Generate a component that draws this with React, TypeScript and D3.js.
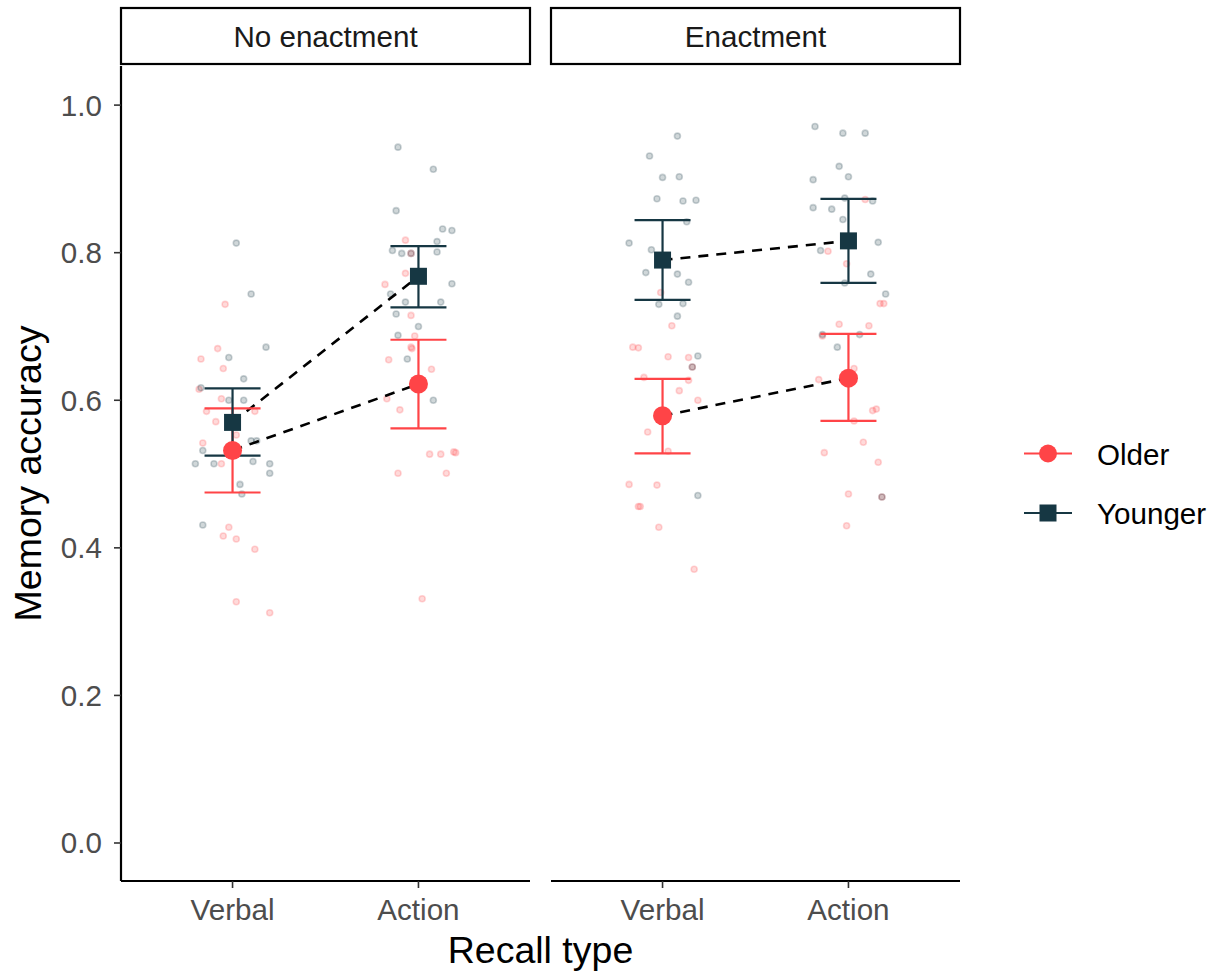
import React from "react";
import * as d3 from "d3";

// ---------- data ----------
const facets = ["No enactment", "Enactment"];
const recallTypes = ["Verbal", "Action"];
const groups = ["Older", "Younger"];
const groupColors = ["#FF4447", "#163743"];
const yTicks = [0, 0.2, 0.4, 0.6, 0.8, 1.0];

// summary: [facet][recall] -> mean, low, high
const olderMean = [[0.532, 0.622], [0.579, 0.630]];
const olderLow = [[0.475, 0.562], [0.528, 0.572]];
const olderHigh = [[0.589, 0.682], [0.629, 0.690]];
const youngerMean = [[0.570, 0.768], [0.790, 0.816]];
const youngerLow = [[0.525, 0.726], [0.736, 0.759]];
const youngerHigh = [[0.616, 0.809], [0.844, 0.873]];

// raw jittered observations: [jitter (category units), accuracy]
const youngerNoVerbal: [number, number][] = [
  [0.02, 0.813], [0.10, 0.744], [0.18, 0.672], [-0.02, 0.658], [0.06, 0.629], [-0.17, 0.617],
  [-0.02, 0.600], [0.06, 0.600], [0.10, 0.545], [0.13, 0.545], [-0.16, 0.532], [-0.20, 0.514],
  [-0.10, 0.514], [0.11, 0.517], [0.20, 0.514], [0.20, 0.501], [0.04, 0.486], [0.05, 0.473],
  [-0.16, 0.431],
];
const olderNoVerbal: [number, number][] = [
  [-0.04, 0.730], [-0.08, 0.670], [-0.17, 0.656], [-0.05, 0.643], [-0.18, 0.615], [-0.06, 0.602],
  [-0.14, 0.585], [0.12, 0.585], [-0.09, 0.571], [0.02, 0.553], [-0.16, 0.542], [-0.06, 0.514],
  [-0.02, 0.428], [-0.05, 0.416], [0.02, 0.412], [0.12, 0.398], [0.02, 0.327], [0.20, 0.312],
];
const youngerNoAction: [number, number][] = [
  [-0.11, 0.943], [0.08, 0.913], [-0.12, 0.857], [0.13, 0.832], [0.18, 0.830], [0.10, 0.815],
  [-0.14, 0.803], [-0.09, 0.799], [-0.04, 0.799], [0.10, 0.801], [0.18, 0.758], [-0.15, 0.744],
  [-0.07, 0.733], [0.12, 0.733], [-0.12, 0.717], [0.00, 0.700], [-0.11, 0.688], [-0.06, 0.656],
  [0.08, 0.600],
];
const olderNoAction: [number, number][] = [
  [-0.07, 0.817], [-0.04, 0.799], [-0.07, 0.772], [-0.18, 0.757], [-0.04, 0.715], [-0.02, 0.687],
  [-0.04, 0.672], [-0.035, 0.670], [-0.16, 0.655], [0.07, 0.642], [-0.17, 0.602], [-0.10, 0.587],
  [0.06, 0.527], [0.12, 0.527], [0.19, 0.530], [0.20, 0.529], [-0.11, 0.501], [0.15, 0.501],
  [0.02, 0.331],
];
const youngerEnVerbal: [number, number][] = [
  [0.08, 0.958], [-0.07, 0.931], [0.00, 0.902], [0.09, 0.903], [-0.03, 0.873], [0.11, 0.870],
  [0.18, 0.871], [0.13, 0.842], [-0.18, 0.813], [-0.06, 0.804], [-0.09, 0.773], [0.08, 0.771],
  [0.14, 0.760], [-0.02, 0.730], [0.11, 0.731], [0.08, 0.714], [0.19, 0.660], [0.16, 0.645],
  [0.19, 0.471],
];
const olderEnVerbal: [number, number][] = [
  [-0.01, 0.746], [0.05, 0.701], [-0.16, 0.672], [-0.13, 0.671], [0.03, 0.659], [0.14, 0.658],
  [0.16, 0.645], [-0.10, 0.631], [0.14, 0.627], [0.09, 0.613], [0.19, 0.600], [-0.08, 0.557],
  [0.03, 0.531], [-0.18, 0.486], [-0.03, 0.485], [-0.13, 0.456], [-0.12, 0.456], [-0.02, 0.428],
  [0.17, 0.371],
];
const youngerEnAction: [number, number][] = [
  [-0.18, 0.971], [-0.03, 0.962], [0.09, 0.962], [-0.05, 0.917], [0.00, 0.903], [-0.19, 0.899],
  [-0.02, 0.874], [0.13, 0.870], [-0.19, 0.861], [-0.09, 0.859], [-0.03, 0.845], [0.16, 0.814],
  [-0.15, 0.803], [0.12, 0.771], [-0.02, 0.759], [0.20, 0.744], [-0.14, 0.689], [0.06, 0.689],
  [-0.06, 0.672], [0.18, 0.469],
];
const olderEnAction: [number, number][] = [
  [0.09, 0.872], [-0.11, 0.802], [-0.01, 0.785], [0.17, 0.731], [0.19, 0.731], [-0.05, 0.703],
  [0.11, 0.701], [-0.14, 0.687], [0.03, 0.643], [-0.16, 0.628], [0.13, 0.586], [0.15, 0.588],
  [0.03, 0.572], [0.08, 0.543], [-0.13, 0.529], [0.16, 0.516], [0.00, 0.473], [0.18, 0.469],
  [-0.01, 0.430],
];

// raw[facet][recall][group]
const raw = [
  [[olderNoVerbal, youngerNoVerbal], [olderNoAction, youngerNoAction]],
  [[olderEnVerbal, youngerEnVerbal], [olderEnAction, youngerEnAction]],
];
const means = [olderMean, youngerMean];
const lows = [olderLow, youngerLow];
const highs = [olderHigh, youngerHigh];

// ---------- layout ----------
const W = 1222;
const H = 974;
const panelTop = 66;
const panelBottom = 881;
const panelLefts = [121, 551];
const panelWidth = 409;
const stripTop = 8;
const stripBottom = 64;
const FONT = "'Liberation Sans', Arial, Helvetica, sans-serif";
const TEXT = 29.6;
const TITLE = 37.5;

export default function App() {
  const y = d3.scaleLinear().domain([-0.0515, 1.053]).range([panelBottom, panelTop]);
  const xScales = panelLefts.map((l) =>
    d3.scalePoint<string>().domain(recallTypes).range([l, l + panelWidth]).padding(0.6)
  );
  const step = xScales[0].step();
  const errHalf = 28;

  return (
    <svg
      width={W}
      height={H}
      style={{ position: "absolute", left: 0, top: 0, background: "#fff" }}
      fontFamily={FONT}
    >
      {facets.map((f, fi) => {
        const x = xScales[fi];
        const left = panelLefts[fi];
        return (
          <g key={f}>
            {/* strip */}
            <rect
              x={left}
              y={stripTop}
              width={panelWidth}
              height={stripBottom - stripTop}
              fill="#fff"
              stroke="#000"
              strokeWidth={2.2}
            />
            <text
              x={left + panelWidth / 2}
              y={47}
              textAnchor="middle"
              fontSize={TEXT}
              fill="#1a1a1a"
            >
              {f}
            </text>

            {/* raw points */}
            {recallTypes.map((r, ri) =>
              groups.map((g, gi) =>
                raw[fi][ri][gi].map(([j, v], k) => (
                  <circle
                    key={`${r}-${g}-${k}`}
                    cx={(x(r) as number) + j * step}
                    cy={y(v)}
                    r={3}
                    fill={groupColors[gi]}
                    fillOpacity={0.2}
                    stroke={groupColors[gi]}
                    strokeOpacity={0.22}
                    strokeWidth={1.6}
                  />
                ))
              )
            )}

            {/* dashed mean lines */}
            {groups.map((g, gi) => {
              const line = d3
                .line<number>()
                .x((_, ri) => x(recallTypes[ri]) as number)
                .y((v) => y(v));
              return (
                <path
                  key={`l-${g}`}
                  d={line(means[gi][fi]) as string}
                  fill="none"
                  stroke="#000"
                  strokeWidth={2.6}
                  strokeDasharray="10,8"
                />
              );
            })}

            {/* error bars */}
            {groups.map((g, gi) =>
              recallTypes.map((r, ri) => {
                const cx = x(r) as number;
                const lo = y(lows[gi][fi][ri]);
                const hi = y(highs[gi][fi][ri]);
                return (
                  <g key={`e-${g}-${r}`} stroke={groupColors[gi]} strokeWidth={2.2}>
                    <line x1={cx} x2={cx} y1={lo} y2={hi} />
                    <line x1={cx - errHalf} x2={cx + errHalf} y1={lo} y2={lo} />
                    <line x1={cx - errHalf} x2={cx + errHalf} y1={hi} y2={hi} />
                  </g>
                );
              })
            )}

            {/* mean markers */}
            {recallTypes.map((r, ri) => {
              const cx = x(r) as number;
              return (
                <g key={`m-${r}`}>
                  <circle cx={cx} cy={y(olderMean[fi][ri])} r={9.5} fill={groupColors[0]} />
                  <rect
                    x={cx - 8.5}
                    y={y(youngerMean[fi][ri]) - 8.5}
                    width={17}
                    height={17}
                    fill={groupColors[1]}
                  />
                </g>
              );
            })}

            {/* x axis */}
            <line x1={left} x2={left + panelWidth} y1={panelBottom} y2={panelBottom} stroke="#000" strokeWidth={2.2} />
            {recallTypes.map((r) => (
              <g key={`xt-${r}`}>
                <line
                  x1={x(r) as number}
                  x2={x(r) as number}
                  y1={panelBottom}
                  y2={panelBottom + 7}
                  stroke="#333"
                  strokeWidth={1.6}
                />
                <text
                  x={x(r) as number}
                  y={920}
                  textAnchor="middle"
                  fontSize={TEXT}
                  fill="#4d4d4d"
                >
                  {r}
                </text>
              </g>
            ))}
          </g>
        );
      })}

      {/* y axis */}
      <line x1={panelLefts[0]} x2={panelLefts[0]} y1={panelTop} y2={panelBottom} stroke="#000" strokeWidth={2.2} />
      {yTicks.map((t) => (
        <g key={`yt-${t}`}>
          <line
            x1={panelLefts[0] - 7}
            x2={panelLefts[0]}
            y1={y(t)}
            y2={y(t)}
            stroke="#333"
            strokeWidth={1.6}
          />
          <text
            x={panelLefts[0] - 19}
            y={y(t) + 10.5}
            textAnchor="end"
            fontSize={TEXT}
            fill="#4d4d4d"
          >
            {d3.format(".1f")(t)}
          </text>
        </g>
      ))}

      {/* axis titles */}
      <text
        x={(panelLefts[0] + panelLefts[1] + panelWidth) / 2}
        y={963}
        textAnchor="middle"
        fontSize={TITLE}
        fill="#000"
      >
        Recall type
      </text>
      <text
        transform={`translate(41, ${(panelTop + panelBottom) / 2}) rotate(-90)`}
        textAnchor="middle"
        fontSize={TITLE}
        fill="#000"
      >
        Memory accuracy
      </text>

      {/* legend */}
      {groups.map((g, gi) => {
        const ly = 453.5 + gi * 59.5;
        return (
          <g key={`lg-${g}`}>
            <line x1={1024} x2={1072} y1={ly} y2={ly} stroke={groupColors[gi]} strokeWidth={2.2} />
            {gi === 0 ? (
              <circle cx={1048} cy={ly} r={9} fill={groupColors[0]} />
            ) : (
              <rect x={1039.5} y={ly - 8.5} width={17} height={17} fill={groupColors[1]} />
            )}
            <text x={1097} y={ly + 11} fontSize={TEXT} fill="#000">
              {g}
            </text>
          </g>
        );
      })}
    </svg>
  );
}
